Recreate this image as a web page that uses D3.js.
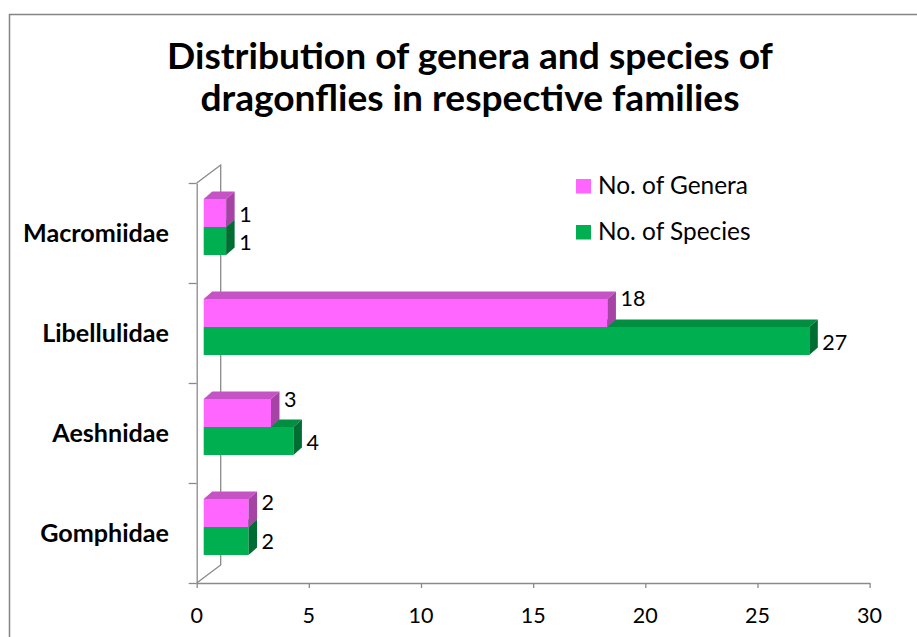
<!DOCTYPE html>
<html>
<head>
<meta charset="utf-8">
<script src="https://cdn.jsdelivr.net/npm/d3@7"></script>
<style>
html, body { margin: 0; padding: 0; background: #ffffff; }
svg { display: block; }
text { font-family: 'Lato', 'Carlito', 'Open Sans', sans-serif; fill: #000; }
</style>
</head>
<body>
<svg id="chart" width="917" height="637"></svg>
<script>
// ---- data ----
const categories = ["Macromiidae", "Libellulidae", "Aeshnidae", "Gomphidae"];
const seriesNames = ["No. of Genera", "No. of Species"];
const genera = [1, 18, 3, 2];
const species = [1, 27, 4, 2];
const xTickValues = [0, 5, 10, 15, 20, 25, 30];
const titleLines = ["Distribution of genera and species of", "dragonflies in respective families"];

// ---- style / layout ----
const colors = {
  "No. of Genera": { front: "#FF66FF", top: "#C653C6", side: "#A544A5" },
  "No. of Species": { front: "#00B050", top: "#008F40", side: "#006E32" }
};
const axisColor = "#8a8a8a";
const wallDx = 24, wallDy = -18;     // depth of the back wall
const barFx = 7, barFy = -6;         // bar front face offset from front plane
const barDx = 8.5, barDy = -7.5;     // bar depth
// label vertical nudges (per series, per category), as in the original
const labelNudge = {
  "No. of Genera": [1, -14.5, -14, -11],
  "No. of Species": [1.5, 1.5, 1.5, 0.5]
};

const svg = d3.select("#chart");

// frame
svg.append("rect")
  .attr("x", 9.5).attr("y", 14.5)
  .attr("width", 1000).attr("height", 800)
  .attr("fill", "#fff").attr("stroke", "#858585").attr("stroke-width", 1.5);

function fitFont(sel, target, base) {
  sel.style("font-size", base + "px");
  const w = sel.node().getComputedTextLength();
  const fs = base * target / w;
  return fs;
}

// scales
const x = d3.scaleLinear().domain([0, 30]).range([196.7, 869.6]);
const y = d3.scaleBand().domain(categories).range([183, 583]).paddingInner(0.44).paddingOuter(0.22);
const ySub = d3.scaleBand().domain(seriesNames).range([0, y.bandwidth()]);
const yEdge = d3.scaleLinear().domain([0, categories.length]).range([583, 183]);

// title
const tTest = svg.append("text").attr("font-weight", "bold").text(titleLines[0]);
const titleSize = fitFont(tTest, 606, 30);
tTest.remove();
svg.append("g").selectAll("text").data(titleLines).join("text")
  .attr("x", 470).attr("y", (d, i) => 69 + i * 42)
  .attr("text-anchor", "middle")
  .attr("font-weight", "bold")
  .style("font-size", titleSize + "px")
  .text(d => d);

// back wall line
const wall = svg.append("g").attr("stroke", axisColor).attr("stroke-width", 1.3).attr("fill", "none");
wall.append("path").attr("d", d3.line()([
  [x(0), yEdge(categories.length)],
  [x(0) + wallDx, yEdge(categories.length) + wallDy],
  [x(0) + wallDx, yEdge(0) + wallDy],
  [x(0), yEdge(0)]
]));

// x axis
const xAxis = svg.append("g").attr("transform", `translate(0,${yEdge(0)})`)
  .call(d3.axisBottom(x).tickValues(xTickValues).tickSize(5).tickSizeOuter(0).tickPadding(0));
xAxis.selectAll("path, line").attr("stroke", axisColor).attr("stroke-width", 1.3);
xAxis.selectAll("text").remove();

// y axis (category boundaries)
const yAxis = svg.append("g").attr("transform", `translate(${x(0)},0)`)
  .call(d3.axisLeft(yEdge).tickValues(d3.range(categories.length + 1)).tickFormat("").tickSize(8).tickSizeOuter(0));
yAxis.selectAll("path, line").attr("stroke", axisColor).attr("stroke-width", 1.3);

// tick labels
const tk = svg.append("text").text("30");
const tickSize = fitFont(tk, 25, 20);
tk.remove();
svg.append("g").selectAll("text").data(xTickValues).join("text")
  .attr("x", d => x(d)).attr("y", 623)
  .attr("text-anchor", "middle")
  .style("font-size", tickSize + "px")
  .text(d => d);

// category labels
const cl = svg.append("text").attr("font-weight", "bold").text("Macromiidae");
const catSize = fitFont(cl, 146, 20);
cl.remove();
svg.append("g").selectAll("text").data(categories).join("text")
  .attr("x", 169)
  .attr("y", d => y(d) + y.bandwidth() / 2 + catSize * 0.36)
  .attr("text-anchor", "end")
  .attr("font-weight", "bold")
  .style("font-size", catSize + "px")
  .text(d => d);

// bars (species first so genera sits on top in paint order)
const barData = [];
categories.forEach((c, i) => {
  barData.push({ cat: c, i, series: "No. of Species", value: species[i] });
  barData.push({ cat: c, i, series: "No. of Genera", value: genera[i] });
});

const bars = svg.append("g");
barData.forEach(d => {
  const x0 = x(0) + barFx, x1 = x(d.value) + barFx;
  const y0 = y(d.cat) + ySub(d.series) + barFy;
  const h = ySub.bandwidth();
  const col = colors[d.series];
  const g = bars.append("g");
  // front
  g.append("rect").attr("x", x0).attr("y", y0).attr("width", x1 - x0).attr("height", h).attr("fill", col.front);
  // top
  g.append("path").attr("fill", col.top).attr("d", d3.line()([
    [x0, y0], [x0 + barDx, y0 + barDy], [x1 + barDx, y0 + barDy], [x1, y0]
  ]) + "Z");
  // side
  g.append("path").attr("fill", col.side).attr("d", d3.line()([
    [x1, y0], [x1 + barDx, y0 + barDy], [x1 + barDx, y0 + h + barDy], [x1, y0 + h]
  ]) + "Z");
});

// data labels
const dl = svg.append("text").text("27");
const labelSize = fitFont(dl, 25, 20);
dl.remove();
svg.append("g").selectAll("text").data(barData).join("text")
  .attr("x", d => x(d.value) + barFx + barDx + 4.5)
  .attr("y", d => y(d.cat) + ySub(d.series) + barFy + ySub.bandwidth() / 2 + labelNudge[d.series][d.i] + labelSize * 0.36)
  .style("font-size", labelSize + "px")
  .text(d => d.value);

// legend
const lg = svg.append("text").text(seriesNames[0]);
const legSize = fitFont(lg, 150, 20);
lg.remove();
const legend = svg.append("g").selectAll("g").data(seriesNames).join("g")
  .attr("transform", (d, i) => `translate(576,${179 + i * 46})`);
legend.append("rect").attr("width", 15).attr("height", 14.5).attr("fill", d => colors[d].front);
legend.append("text").attr("x", 22).attr("y", 15)
  .style("font-size", legSize + "px")
  .text(d => d);
</script>
</body>
</html>
